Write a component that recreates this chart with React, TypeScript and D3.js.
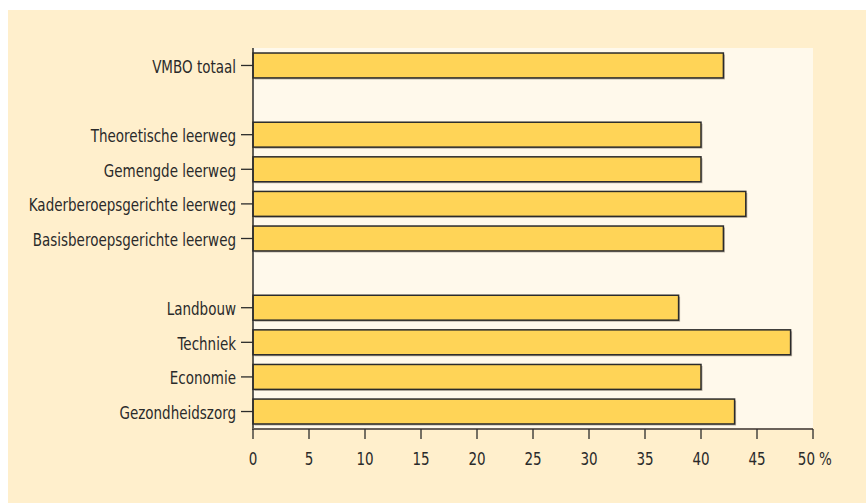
import React from "react";
import * as d3 from "d3";

const categories = [
  "VMBO totaal",
  "",
  "Theoretische leerweg",
  "Gemengde leerweg",
  "Kaderberoepsgerichte leerweg",
  "Basisberoepsgerichte leerweg",
  " ",
  "Landbouw",
  "Techniek",
  "Economie",
  "Gezondheidszorg",
];
const values: (number | null)[] = [42, null, 40, 40, 44, 42, null, 38, 48, 40, 43];
const xTicks = [0, 5, 10, 15, 20, 25, 30, 35, 40, 45, 50];

const W = 866;
const H = 503;
const left = 253;
const right = 813;
const top = 48;
const bottom = 429;
const FONT = "'DejaVu Sans', sans-serif";
const FS = 18;
const SX = 0.75;

function NText({ x, y, anchor, children }: { x: number; y: number; anchor: string; children: React.ReactNode }) {
  return (
    <text
      transform={`translate(${x},${y}) scale(${SX},1)`}
      dy="0.36em"
      textAnchor={anchor}
      fontSize={FS}
      fill="#2a2a2a"
    >
      {children}
    </text>
  );
}

export default function App() {
  const x = d3.scaleLinear().domain([0, 50]).range([left, right]);
  const y = d3
    .scaleBand<string>()
    .domain(categories)
    .range([top, bottom])
    .paddingInner(0.28)
    .paddingOuter(0.145);
  const bw = y.bandwidth();

  return (
    <svg
      width={W}
      height={H}
      style={{ position: "absolute", left: 0, top: 0, fontFamily: FONT }}
    >
      <rect x={8} y={10} width={W - 8} height={H - 10} fill="#FFEFCC" />
      <rect x={left} y={top} width={right - left} height={bottom - top} fill="#FFF9EB" />
      {categories.map((c, i) => {
        const v = values[i];
        if (v == null) return null;
        const yy = y(c)!;
        return (
          <g key={i}>
            <rect
              x={x(0) + 1.5}
              y={yy + 1.5}
              width={x(v) - x(0)}
              height={bw}
              fill="#9b9284"
              opacity={0.7}
            />
            <rect
              x={x(0)}
              y={yy}
              width={x(v) - x(0)}
              height={bw}
              fill="#FFD457"
              stroke="#2b2b2b"
              strokeWidth={1.5}
            />
            <line
              x1={left - 12}
              x2={left}
              y1={yy + bw / 2}
              y2={yy + bw / 2}
              stroke="#2b2b2b"
              strokeWidth={1.3}
            />
            <NText x={left - 17} y={yy + bw / 2 + 1} anchor="end">
              {c}
            </NText>
          </g>
        );
      })}
      <line x1={left} x2={left} y1={top} y2={bottom + 1} stroke="#2b2b2b" strokeWidth={1.5} />
      <line x1={left} x2={right} y1={bottom} y2={bottom} stroke="#6b625a" strokeWidth={2} />
      {xTicks.map((t) => (
        <g key={t}>
          <line x1={x(t)} x2={x(t)} y1={bottom} y2={bottom + 10} stroke="#2b2b2b" strokeWidth={1.3} />
          {t === 50 ? (
            <NText x={x(t) + 2} y={459} anchor="end">
              {t}
            </NText>
          ) : (
            <NText x={x(t)} y={459} anchor="middle">
              {t}
            </NText>
          )}
        </g>
      ))}
      <NText x={x(50) + 6} y={459} anchor="start">
        %
      </NText>
    </svg>
  );
}
